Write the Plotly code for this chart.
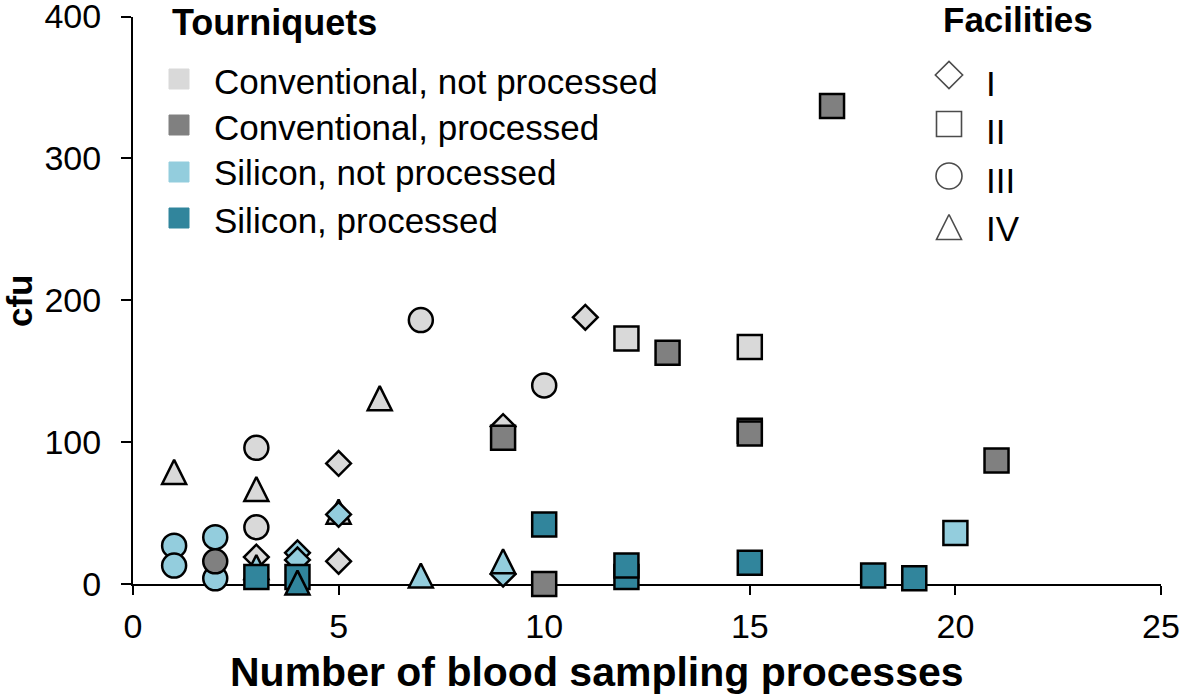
import plotly.graph_objects as go

W, H = 1181, 697

# ---------------- data ----------------
categories = ["Conventional, not processed", "Conventional, processed",
              "Silicon, not processed", "Silicon, processed"]
colors = ["#D9D9D9", "#808080", "#93CDDD", "#31859C"]
facilities = ["I", "II", "III", "IV"]

# Conventional, not processed
conv_np_x = [3, 5, 5, 9, 11, 12, 15, 3, 3, 7, 10, 1, 3, 5, 6]
conv_np_y = [19, 85, 16, 111, 188, 173, 167, 96, 40, 186, 140, 79, 67, 51, 131]
conv_np_f = ["I", "I", "I", "I", "I", "II", "II", "III", "III", "III", "III", "IV", "IV", "IV", "IV"]

# Conventional, processed
conv_p_x = [9, 10, 13, 15, 15, 17, 21, 2]
conv_p_y = [103, 0, 163, 108, 106, 337, 87, 16]
conv_p_f = ["II", "II", "II", "II", "II", "II", "II", "III"]

# Silicon, not processed
sil_np_x = [4, 4, 5, 9, 20, 1, 1, 2, 2, 3, 7, 9]
sil_np_y = [22, 17, 49, 7, 36, 27, 13, 33, 4, 12, 6, 16]
sil_np_f = ["I", "I", "I", "I", "II", "III", "III", "III", "III", "IV", "IV", "IV"]

# Silicon, processed
sil_p_x = [3, 4, 10, 12, 12, 15, 18, 19, 4]
sil_p_y = [5, 5, 42, 5, 13, 15, 6, 4, 1]
sil_p_f = ["II", "II", "II", "II", "II", "II", "II", "II", "IV"]

x_ticks = [0, 5, 10, 15, 20, 25]
y_ticks = [0, 100, 200, 300, 400]

# ---------------- styling ----------------
FONT = "Liberation Sans, Arial, sans-serif"
sym = {"I": "diamond", "II": "square", "III": "circle", "IV": "arrow-down"}
msize = {"I": 19, "II": 24, "III": 24, "IV": 24}

series = {
    0: (conv_np_x, conv_np_y, conv_np_f),
    1: (conv_p_x, conv_p_y, conv_p_f),
    2: (sil_np_x, sil_np_y, sil_np_f),
    3: (sil_p_x, sil_p_y, sil_p_f),
}

# drawing order (category index, facility)
order = [(0, "I"), (0, "II"), (0, "III"), (0, "IV"),
         (2, "III"), (1, "II"), (1, "III"),
         (2, "I"), (2, "IV"), (2, "II"),
         (3, "II"), (3, "IV")]

fig = go.Figure()
for ci, fac in order:
    xs, ys, fs = series[ci]
    px = [x for x, f in zip(xs, fs) if f == fac]
    py = [y for y, f in zip(ys, fs) if f == fac]
    if not px:
        continue
    s = msize[fac]
    marker = dict(symbol=sym[fac], size=s, color=colors[ci],
                  line=dict(color="black", width=2.5))
    if fac == "IV":
        marker.update(angle=180, standoff=s / 2)
    fig.add_trace(go.Scatter(x=px, y=py, mode="markers", marker=marker,
                             cliponaxis=False, showlegend=False,
                             name=f"{categories[ci]} – {fac}"))

# ---------------- legend drawn on a pixel-space overlay axis ----------------
leg_sw_y = [79, 125, 172, 218]
fig.add_trace(go.Scatter(
    x=[179] * 4, y=leg_sw_y, mode="markers", xaxis="x2", yaxis="y2",
    marker=dict(symbol="square", size=20, color=colors,
                line=dict(color=colors, width=1)),
    showlegend=False, hoverinfo="skip", cliponaxis=False))

fac_sym_y = [75, 124, 176, 227]
fac_sizes = [21, 25, 26, 25]
fig.add_trace(go.Scatter(
    x=[949] * 4, y=fac_sym_y, mode="markers", xaxis="x2", yaxis="y2",
    marker=dict(symbol=[sym[f] for f in facilities], size=fac_sizes,
                color="white", line=dict(color="black", width=1.6),
                angle=[0, 0, 0, 180], standoff=[0, 0, 0, 12.5]),
    showlegend=False, hoverinfo="skip", cliponaxis=False))


def P(x, y):
    return x / W, 1 - y / H


annots = []


def add_text(text, x, y, size, bold=False, xanchor="left", angle=0):
    px, py = P(x, y)
    annots.append(dict(text=f"<b>{text}</b>" if bold else text, x=px, y=py,
                       xref="paper", yref="paper", xanchor=xanchor,
                       yanchor="middle", showarrow=False, textangle=angle,
                       font=dict(family=FONT, size=size, color="black")))


add_text("Tourniquets", 170, 23, 36, bold=True)
for cat, yy in zip(categories, [81, 127, 173, 220]):
    add_text(cat, 212, yy, 35)

add_text("Facilities", 941, 20, 35, bold=True)
for fac, yy in zip(facilities, [83, 131, 180, 228]):
    add_text(fac, 984, yy, 35)

add_text("Number of blood sampling processes", 597, 672, 41, bold=True, xanchor="center")
add_text("cfu", 19, 300, 35, bold=True, xanchor="center", angle=-90)

x0, x1 = 133, 1161
y0, y1 = 584, 16.5

axis_common = dict(showgrid=False, zeroline=False, showline=True, linecolor="black",
                   linewidth=2, ticks="outside", tickwidth=2, tickcolor="black",
                   tickfont=dict(size=34, family=FONT), layer="below traces",
                   fixedrange=True, automargin=False, ticklabeloverflow="allow")

fig.update_layout(
    width=W, height=H, autosize=False,
    margin=dict(l=0, r=0, t=0, b=0, pad=0, autoexpand=False),
    paper_bgcolor="white", plot_bgcolor="rgba(0,0,0,0)",
    font=dict(family=FONT, size=34, color="black"),
    annotations=annots,
    xaxis=dict(domain=[x0 / W, x1 / W], range=[0, 25], tickvals=x_ticks,
               ticklen=9, ticklabelstandoff=2, **axis_common),
    yaxis=dict(domain=[1 - y0 / H, 1 - y1 / H], range=[0, 400], tickvals=y_ticks,
               ticklen=10, ticklabelstandoff=13, **axis_common),
    xaxis2=dict(domain=[0, 1], range=[0, W], visible=False, anchor="y2",
                fixedrange=True, automargin=False),
    yaxis2=dict(domain=[0, 1], range=[H, 0], visible=False, anchor="x2",
                fixedrange=True, automargin=False),
)

fig.write_html("out.html", config={"displayModeBar": False},
               post_script="document.body.style.margin='0';")
